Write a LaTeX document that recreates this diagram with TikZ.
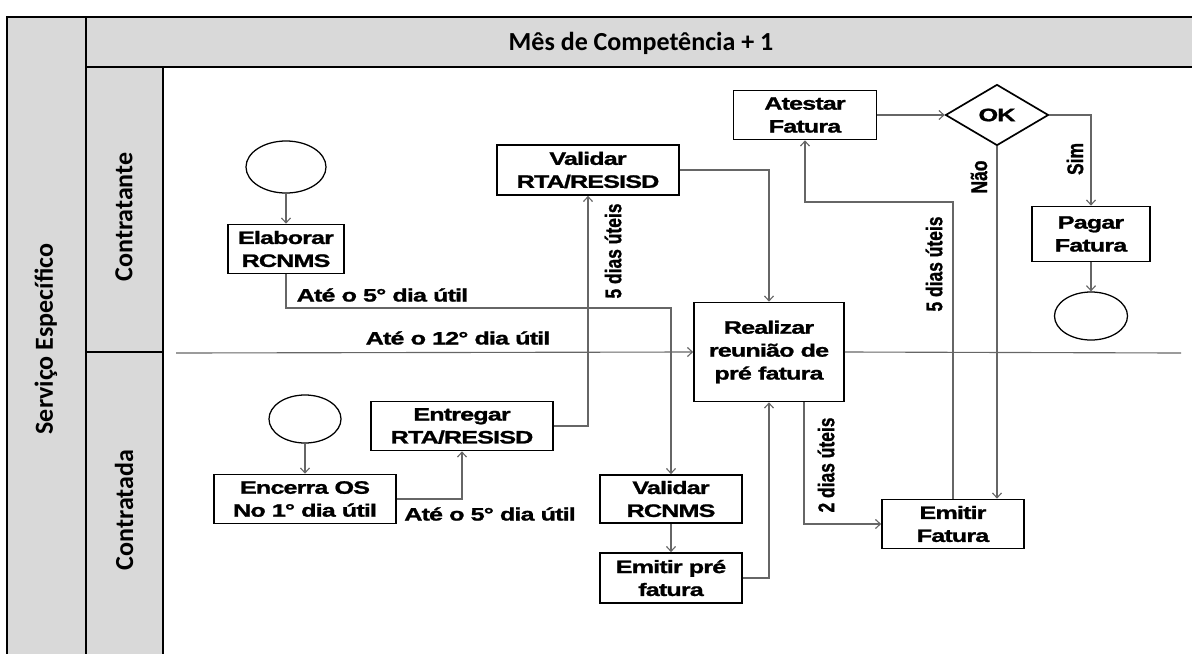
\documentclass[tikz,border=0pt]{standalone}
\usepackage{fontspec}
\usepackage{tikz}
\usetikzlibrary{arrows.meta, shapes.geometric}
\newfontfamily\boxfont{Liberation Sans}[FakeStretch=1.4, LetterSpace=-5, FakeBold=1.2]
\newfontfamily\plainfont{Liberation Sans}[FakeBold=1.2]
\newfontfamily\titlefont{Carlito}
\newcommand{\tallt}[1]{\scalebox{1}[1.3]{#1}}
\colorlet{lanegray}{black!15}
\colorlet{linkgray}{black!60}

\begin{document}
\begin{tikzpicture}[x=0.025cm, y=-0.025cm,
    >={Straight Barb[length=3.5pt,width=6.5pt]},
    frame/.style={line width=1.8pt, draw=black},
    tarefa/.style={draw=black, line width=1.2pt, fill=white, align=center,
      inner sep=1pt, font=\boxfont\bfseries\fontsize{12.8}{16.3}\selectfont},
    evento/.style={draw=black, line width=0.9pt, ellipse},
    decisao/.style={draw=black, line width=1.2pt, diamond, fill=white,
      inner sep=0pt, font=\boxfont\bfseries\fontsize{12.8}{16.3}\selectfont},
    link/.style={draw=linkgray, line width=0.8pt},
    rotulo/.style={font=\boxfont\bfseries\fontsize{12.8}{16.3}\selectfont, inner sep=1pt},
    prazo/.style={font=\plainfont\bfseries\fontsize{12.4}{15}\selectfont, inner sep=1pt, rotate=90},
    titulo/.style={font=\titlefont\bfseries\fontsize{18.5}{22}\selectfont, inner sep=0pt}]
    \useasboundingbox (0,0) rectangle (1192,653);
    \clip (0,0) rectangle (1192,653);

    % Pool & lanes
    \fill[lanegray] (7,17) rectangle (163,700);
    \fill[lanegray] (86,17) rectangle (1250,67);
    \draw[frame] (7,700) -- (7,17) -- (1250,17);
    \draw[frame] (86,17) -- (86,700);
    \draw[frame] (163,67) -- (163,700);
    \draw[frame] (86,67) -- (1250,67);
    \draw[frame] (86,352) -- (163,352);

    \node[titulo] (mes) at (641,43) {Mês de Competência + 1};
    \node[titulo, rotate=90] (servico) at (46,339) {Serviço Específico};
    \node[titulo, rotate=90] (contratante) at (124,217) {Contratante};
    \node[titulo, rotate=90] (contratada) at (124,510) {Contratada};

    % Contratante
    \node[evento, minimum width=2cm, minimum height=1.3cm] (ini1) at (286,167) {};
    \node[tarefa, minimum width=2.9cm, minimum height=1.225cm] (elab) at (286,249) {Elaborar\\RCNMS};
    \node[tarefa, minimum width=4.55cm, minimum height=1.25cm] (vrta) at (588,170) {Validar\\RTA/RESISD};
    \node[tarefa, minimum width=3.575cm, minimum height=1.225cm] (atest) at (805,115) {Atestar\\Fatura};
    \node[decisao, minimum width=2.575cm, minimum height=1.525cm] (ok) at (997,115) {OK};
    \node[tarefa, minimum width=2.95cm, minimum height=1.375cm] (pagar) at (1091,234) {Pagar\\Fatura};
    \node[evento, minimum width=1.825cm, minimum height=1.2cm] (fim) at (1091,316) {};

    % Realizar reuniao (on the lane line)
    \node[tarefa, minimum width=3.75cm, minimum height=2.475cm] (reun) at (769,352) {Realizar\\reunião de\\pré fatura};

    % Contratada
    \node[evento, minimum width=1.8cm, minimum height=1.2cm] (ini2) at (305,419) {};
    \node[tarefa, minimum width=4.55cm, minimum height=1.225cm] (ence) at (305,499) {Encerra OS\\No 1° dia útil};
    \node[tarefa, minimum width=4.55cm, minimum height=1.225cm] (entr) at (462,426) {Entregar\\RTA/RESISD};
    \node[tarefa, minimum width=3.55cm, minimum height=1.2cm] (vrcn) at (671,499) {Validar\\RCNMS};
    \node[tarefa, minimum width=3.55cm, minimum height=1.25cm] (epre) at (671,578) {Emitir pré\\fatura};
    \node[tarefa, minimum width=3.55cm, minimum height=1.225cm] (efat) at (953,524) {Emitir\\Fatura};

    % Connectors
    \coordinate (laneL) at (176,353);
    \coordinate (laneR) at (1181,353);
    \coordinate (k1) at (0,308);
    \coordinate (k2) at (0,202);
    \draw[link, ->] (laneL) -- (reun.west);
    \draw[link] (reun.east) -- (laneR);
    \draw[link, ->] (ini1) -- (elab);
    \draw[link, ->] (elab.south) |- (vrcn.north |- k1) -- (vrcn.north);
    \draw[link, ->] (vrta.east) -| (reun.north);
    \draw[link, ->] (ini2) -- (ence);
    \draw[link, ->] (ence.east) -| (entr.south);
    \draw[link, ->] (entr.east) -| (vrta.south);
    \draw[link, ->] (vrcn) -- (epre);
    \draw[link, ->] (epre.east) -| (reun.south);
    \draw[link, ->] ([xshift=0.875cm]reun.south) |- (efat.west);
    \draw[link, ->] (efat.north) -- (efat.north |- k2) -| (atest.south);
    \draw[link, ->] (atest.east) -- (ok.west);
    \draw[link, ->] (ok.south) -- (ok.south |- efat.north);
    \draw[link, ->] (ok.east) -| (pagar.north);
    \draw[link, ->] (pagar) -- (fim);

    % Labels
    \node[rotulo, anchor=west] (l5a) at (295,295) {Até o 5° dia útil};
    \node[rotulo] (l12) at (458,338) {Até o 12° dia útil};
    \node[rotulo] (l5b) at (490,514) {Até o 5° dia útil};
    \node[prazo] (d5a) at (613,251) {\tallt{5 dias úteis}};
    \node[prazo] (d2) at (826,465) {\tallt{2 dias úteis}};
    \node[prazo] (d5b) at (934,264) {\tallt{5 dias úteis}};
    \node[prazo] (nao) at (979,177) {\tallt{Não}};
    \node[prazo] (sim) at (1075,159) {\tallt{Sim}};
\end{tikzpicture}
\end{document}
